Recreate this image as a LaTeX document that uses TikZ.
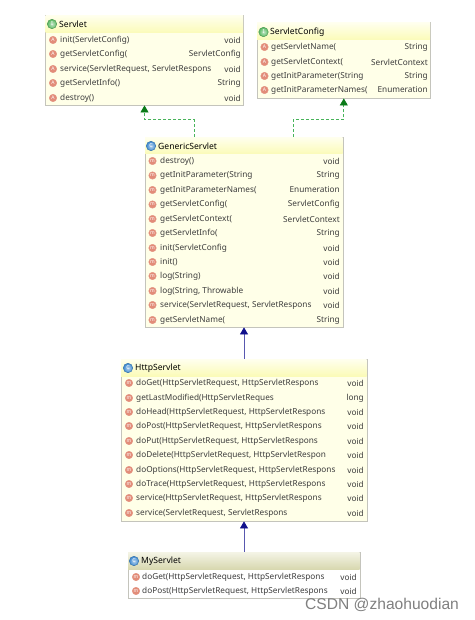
\documentclass[tikz,border=0pt]{standalone}
\usepackage{fontspec}
\setmainfont{Noto Sans}
\newfontfamily\markfont{Liberation Sans}
\usetikzlibrary{arrows.meta,positioning,calc,shadings}

\definecolor{boxedge}{HTML}{C4C4BC}
\definecolor{boxbody}{HTML}{FFFFE8}
\definecolor{headtop}{HTML}{FFFFEE}
\definecolor{headlow}{HTML}{FBFBB8}
\definecolor{plaintop}{HTML}{F4F4E6}
\definecolor{plainlow}{HTML}{D8D8B0}
\definecolor{inkgray}{HTML}{3C3C3C}
\definecolor{methred}{HTML}{D8664C}
\definecolor{extblue}{HTML}{10108C}
\definecolor{impgreen}{HTML}{0A7A18}
\definecolor{dashgreen}{HTML}{48B45A}
\definecolor{ifacegreen}{HTML}{58B860}
\definecolor{classblue}{HTML}{3C88D0}

\tikzset{
  classbox/.style={draw=boxedge, fill=boxbody, line width=0.8pt, inner sep=0pt},
  plainbox/.style={classbox, fill=white},
  memb/.style={anchor=west, inner sep=0pt, text=inkgray, font=\fontsize{8.25}{10}\selectfont},
  ret/.style={anchor=east, inner sep=0pt, text=inkgray, font=\fontsize{8.25}{10}\selectfont},
  title/.style={anchor=west, inner sep=0pt, text=black, font=\fontsize{8.6}{10}\selectfont\bfseries},
  methicon/.style={circle, minimum size=7.5pt, inner sep=0pt, draw=methred!70, fill=methred!75,
    text=white, font=\fontsize{5}{5}\selectfont},
  typeicon/.style={circle, minimum size=9.5pt, inner sep=0pt, draw=#1!80!black, inner color=#1!35, outer color=#1,
    text=white, font=\fontsize{5.5}{5}\selectfont\bfseries},
  impl/.style={draw=dashgreen, dashed, dash pattern=on 3pt off 2pt, line width=0.7pt,
    -{Triangle[length=7pt,width=8pt,color=impgreen]}},
  extd/.style={draw=extblue!70, line width=0.7pt,
    -{Triangle[length=7pt,width=8pt,color=extblue]}}
}

\begin{document}
\begin{tikzpicture}[x=1pt,y=-1pt]
  \useasboundingbox (0,0) rectangle (474,620);
  \fill[white] (0,0) rectangle (474,620);

  % Servlet (top left)
  \node[classbox, minimum width=198pt, minimum height=90pt] (servlet) at (144.5,60) {};
  \shade[top color=headtop, bottom color=headlow] ([shift={(0.5,0.5)}]servlet.north west) rectangle (243,33);
  \node[typeicon=ifacegreen] (servleti) at (52,24) {I};
  \node[title] (servlett) at (59,24) {Servlet};
  \foreach \ypos/\mname/\mret [count=\i] in {40/init(ServletConfig)/void, 54/getServletConfig(/ServletConfig,
      69/{service(ServletRequest, ServletRespons}/void, 83/getServletInfo()/String, 98/destroy()/void} {
    \node[methicon] (servleti\i) at (53,\ypos) {A};
    \node[memb] (servletm\i) at (60,\ypos) {\mname};
    \node[ret] (servletr\i) at (241,\ypos) {\mret};
  }

  % ServletConfig (top right)
  \node[classbox, minimum width=173.5pt, minimum height=75.5pt] (servletconfig) at (343.8,60.3) {};
  \shade[top color=headtop, bottom color=headlow] ([shift={(0.5,0.5)}]servletconfig.north west) rectangle (430.2,40);
  \node[typeicon=ifacegreen] (configi) at (263.5,32) {I};
  \node[title] (configt) at (270,32) {ServletConfig};
  \foreach \ypos/\mname/\mret [count=\i] in {47/getServletName(/String, 62/getServletContext(/ServletContext,
      76/getInitParameter(String/String, 90/getInitParameterNames(/Enumeration} {
    \node[methicon] (configi\i) at (264.5,\ypos) {A};
    \node[memb] (configm\i) at (271,\ypos) {\mname};
    \node[ret] (configr\i) at (428,\ypos) {\mret};
  }

  % GenericServlet (middle)
  \node[classbox, minimum width=198pt, minimum height=190pt] (genericservlet) at (244,232) {};
  \shade[top color=headtop, bottom color=headlow] ([shift={(0.5,0.5)}]genericservlet.north west) rectangle (342.6,154);
  \node[typeicon=classblue] (generici) at (151,146) {C};
  \node[title] (generict) at (158,146) {GenericServlet};
  \foreach \ypos/\mname/\mret [count=\i] in {161/destroy()/void, 175.5/getInitParameter(String/String,
      190/getInitParameterNames(/Enumeration, 204.5/getServletConfig(/ServletConfig, 219/getServletContext(/ServletContext,
      233/getServletInfo(/String, 248/init(ServletConfig/void, 262/init()/void, 276/log(String)/void,
      291/{log(String, Throwable}/void, 305/{service(ServletRequest, ServletRespons}/void, 320/getServletName(/String} {
    \node[methicon] (generici\i) at (152.5,\ypos) {m};
    \node[memb] (genericm\i) at (160,\ypos) {\mname};
    \node[ret] (genericr\i) at (340,\ypos) {\mret};
  }

  % HttpServlet
  \node[classbox, minimum width=246pt, minimum height=162pt] (httpservlet) at (244,440) {};
  \shade[top color=headtop, bottom color=headlow] ([shift={(0.5,0.5)}]httpservlet.north west) rectangle (366.6,376);
  \node[typeicon=classblue] (httpi) at (128,368) {C};
  \node[title] (httpt) at (135,368) {HttpServlet};
  \foreach \ypos/\mname/\mret [count=\i] in {383/{doGet(HttpServletRequest, HttpServletRespons}/void,
      398/getLastModified(HttpServletReques/long, 412/{doHead(HttpServletRequest, HttpServletRespons}/void,
      426/{doPost(HttpServletRequest, HttpServletRespons}/void, 441/{doPut(HttpServletRequest, HttpServletRespons}/void,
      455/{doDelete(HttpServletRequest, HttpServletRespon}/void, 470/{doOptions(HttpServletRequest, HttpServletRespons}/void,
      484/{doTrace(HttpServletRequest, HttpServletRespons}/void, 498/{service(HttpServletRequest, HttpServletRespons}/void,
      513/{service(ServletRequest, ServletRespons}/void} {
    \node[methicon] (httpi\i) at (129,\ypos) {m};
    \node[memb] (httpm\i) at (136,\ypos) {\mname};
    \node[ret] (httpr\i) at (364,\ypos) {\mret};
  }

  % MyServlet (bottom)
  \node[plainbox, minimum width=232pt, minimum height=46pt] (myservlet) at (244,575) {};
  \shade[top color=plaintop, bottom color=plainlow] ([shift={(0.5,0.5)}]myservlet.north west) rectangle (359.6,569);
  \node[typeicon=classblue] (myi) at (134,561) {C};
  \node[title] (myt) at (141,561) {MyServlet};
  \foreach \ypos/\mname/\mret [count=\i] in {577/{doGet(HttpServletRequest, HttpServletRespons}/void,
      591/{doPost(HttpServletRequest, HttpServletRespons}/void} {
    \node[methicon] (myi\i) at (136,\ypos) {m};
    \node[memb] (mym\i) at (142,\ypos) {\mname};
    \node[ret] (myr\i) at (357,\ypos) {\mret};
  }

  % connectors
  \draw[impl] ($(genericservlet.north)+(-50,0)$) -- ++(0,-17) -| (servlet.south);
  \draw[impl] ($(genericservlet.north)+(49,0)$) -- ++(0,-17) -| (servletconfig.south);
  \draw[extd] (httpservlet.north) -- (genericservlet.south);
  \draw[extd] (myservlet.north) -- (httpservlet.south);

  % watermark
  \node[anchor=west, inner sep=0pt, text=black!50, font=\markfont\fontsize{15.6}{17}\selectfont] (mark) at (305,604.5) {CSDN @zhaohuodian};
\end{tikzpicture}
\end{document}
